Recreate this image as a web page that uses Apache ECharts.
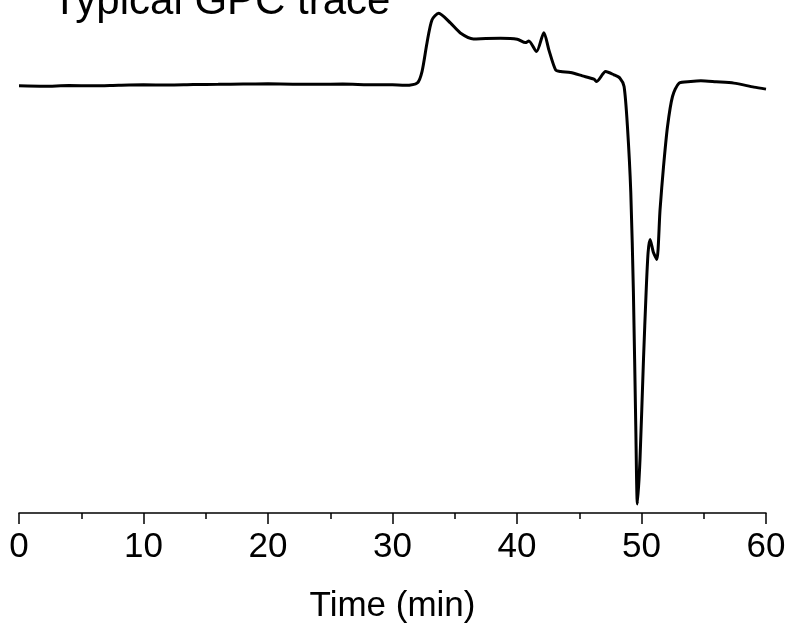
<!DOCTYPE html>
<html>
<head>
<meta charset="utf-8">
<script src="https://cdn.jsdelivr.net/npm/echarts@6/dist/echarts.min.js"></script>
<style>
html,body{margin:0;padding:0;background:#fff;}
#chart{width:790px;height:629px;}
</style>
</head>
<body>
<div id="chart"></div>
<script>
// Time (min)
var timeMin = [0, 2, 4, 6, 8, 10, 12, 14, 16, 18, 20, 22, 24, 26, 28, 30, 31, 32, 32.37, 32.77, 33.17, 33.71, 34.65, 35.45, 36.5, 37.5, 38.67, 40.02, 40.68, 40.95, 41.57, 42.16, 42.56, 43.1, 43.5, 44.3, 45.25, 46.18, 46.4, 47.12, 47.79, 48.27, 48.6, 48.87, 49.14, 49.35, 49.54, 49.67, 49.88, 50.16, 50.37, 50.53, 50.69, 50.96, 51.23, 51.49, 51.77, 52.09, 52.49, 53.02, 53.96, 54.77, 56, 57.42, 59.03, 60];
// Detector signal (arbitrary units)
var signal = [0, -0.5, 0.3, 0, 0.6, 1, 0.8, 1.3, 1.5, 1.8, 2, 1.7, 1.5, 1.8, 1.2, 1, 0.5, 3, 14.3, 43, 66, 72.7, 63, 53, 47, 47.5, 47.7, 46.7, 43.3, 45, 34.3, 53.3, 36, 16, 14.3, 13.3, 10, 6.7, 4.3, 14.3, 11, 7.7, -0.7, -40.7, -107, -207, -340.7, -419, -374, -274, -207, -167, -154, -167, -174, -124, -80.7, -40.7, -10.7, 2.7, 4.3, 5, 4, 2.7, -1.3, -3.3];
var xTicks = [0, 10, 20, 30, 40, 50, 60];
var titleText = 'Typical GPC trace';
var xName = 'Time (min)';

var data = timeMin.map(function (t, i) { return [t, signal[i]]; });
var font = '"Liberation Sans", Arial, Helvetica, sans-serif';

var chart = echarts.init(document.getElementById('chart'), null, {renderer: 'canvas'});
chart.setOption({
  backgroundColor: '#ffffff',
  animation: false,
  grid: {left: 19, right: 24, top: 0, bottom: 115, containLabel: false},
  title: {
    text: titleText,
    left: 52,
    top: -19,
    padding: 0,
    textStyle: {fontFamily: font, fontSize: 42, fontWeight: 'normal', color: '#000'}
  },
  xAxis: {
    type: 'value',
    min: 0,
    max: 60,
    interval: 10,
    name: xName,
    nameLocation: 'middle',
    nameGap: 76,
    nameTextStyle: {fontFamily: font, fontSize: 35, color: '#000'},
    axisLine: {show: true, onZero: false, lineStyle: {color: '#000', width: 1.5}},
    axisTick: {show: true, inside: false, length: 11, lineStyle: {color: '#000', width: 1.5}},
    minorTick: {show: true, splitNumber: 2, length: 6, lineStyle: {color: '#000', width: 1.5}},
    splitLine: {show: false},
    axisLabel: {
      margin: 17,
      fontFamily: font, fontSize: 35, color: '#000',
      formatter: function (v) { return xTicks.indexOf(v) >= 0 ? String(v) : ''; }
    }
  },
  yAxis: {
    type: 'value',
    min: -428,
    max: 86,
    show: false
  },
  series: [{
    type: 'line',
    data: data,
    showSymbol: false,
    smooth: 0.25,
    lineStyle: {color: '#000', width: 3},
    clip: false
  }]
});
</script>
</body>
</html>
